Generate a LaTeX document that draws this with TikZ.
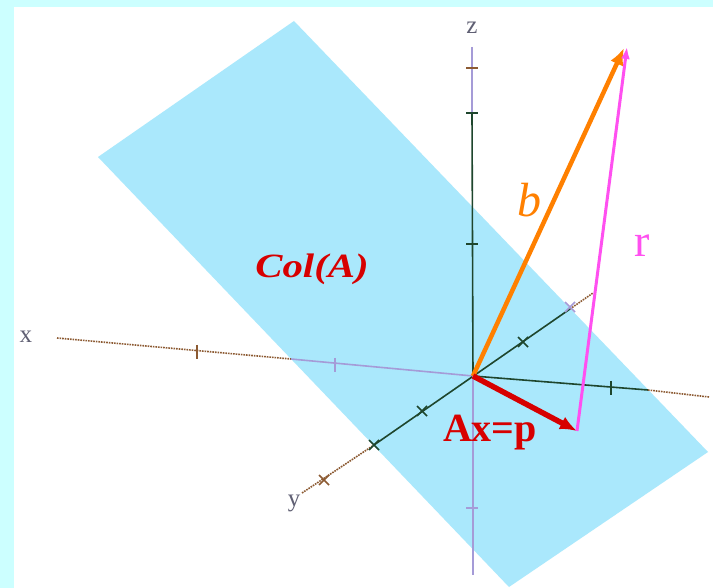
\documentclass[tikz,border=0pt]{standalone}
\usepackage{fontspec}
\setmainfont{Liberation Serif}
\usetikzlibrary{arrows.meta}

\definecolor{planecyan}{RGB}{170,232,252}
\definecolor{framecyan}{RGB}{204,255,255}
\definecolor{axisgreen}{RGB}{30,70,45}
\definecolor{axispurple}{RGB}{165,155,215}
\definecolor{axisbrown}{RGB}{140,90,50}
\definecolor{vecorange}{RGB}{255,128,0}
\definecolor{vecred}{RGB}{215,0,0}
\definecolor{vecpink}{RGB}{255,80,240}
\definecolor{labelgray}{RGB}{95,95,115}

\begin{document}
\begin{tikzpicture}
    [
        x=1pt, y=-1pt,
        front/.style={draw=axisgreen, line width=1.6pt},
        behind/.style={draw=axispurple, line width=1.6pt},
        outside/.style={draw=axisbrown, densely dotted, line width=1.6pt},
        axislabel/.style={text=labelgray, font=\fontsize{25}{25}\selectfont, inner sep=0pt},
        vector/.style={-{Latex[length=17pt, width=14pt]}, line width=4.5pt}
    ]
        % =========================================================================
        % FRAME
        % =========================================================================
        \fill [framecyan] (0,0) rectangle (713,588);
        \fill [white] (14,7) rectangle (713,588);
        \useasboundingbox (0,0) rectangle (713,588);

        % =========================================================================
        % PLANE
        % =========================================================================
        \coordinate (T) at (294,21);
        \coordinate (L) at (98,157);
        \coordinate (B) at (509,587);
        \coordinate (R) at (708,452);
        \fill [planecyan] (T) -- (R) -- (B) -- (L) -- cycle;

        % =========================================================================
        % AXES
        % =========================================================================
        \coordinate (O) at (473,376);
        % --- x ---
        \coordinate (xend) at (57,338);
        \coordinate (xin) at (291,359);
        \coordinate (xout) at (648,390);
        \coordinate (xstop) at (709,397);
        % --- y ---
        \coordinate (yend) at (302,493);
        \coordinate (yin) at (374,445);
        \coordinate (yout) at (570,309);
        \coordinate (ystop) at (593,293);
        % --- z ---
        \coordinate (ztop) at (472,47);
        \coordinate (zmid) at (472,113);
        \coordinate (zbot) at (473,575);

        \draw [outside] (xend) -- (xin);
        \draw [behind] (xin) -- (O);
        \draw [front] (O) -- (xout);
        \draw [outside] (xout) -- (xstop);
        \draw [outside] (yend) -- (yin);
        \draw [front] (yin) -- (yout);
        \draw [outside] (yout) -- (ystop);
        \draw [behind] (ztop) -- (zmid);
        \draw [front] (zmid) -- (O);
        \draw [behind] (O) -- (zbot);

        % --- ticks ---
        \foreach \x/\y/\c in {197/352/axisbrown, 335/365/axispurple, 611/388/axisgreen}
            \draw [\c, line width=1.6pt] (\x,\y-7) -- (\x,\y+7);
        \foreach \x/\y/\c in {422/411/axisgreen, 374/445/axisgreen, 324/480/axisbrown,
                              523/342/axisgreen, 570/307/axispurple}
            \draw [\c, line width=1.6pt] (\x-5,\y-5) -- (\x+5,\y+5) (\x-5,\y+5) -- (\x+5,\y-5);
        \foreach \y/\c in {68/axisbrown, 113/axisgreen, 244/axisgreen, 508/axispurple}
            \draw [\c, line width=1.6pt] (466,\y) -- (478,\y);

        % =========================================================================
        % VECTORS
        % =========================================================================
        \coordinate (btip) at (624,48);
        \coordinate (ptip) at (577,431);
        \coordinate (rtip) at (627,47);
        \draw [vector, vecorange] (O) -- (btip);
        \draw [vector, vecred, line width=5.5pt] (O) -- (ptip);
        \draw [vecpink, line width=3pt, -{Latex[length=12pt, width=9pt]}] (ptip) -- (rtip);

        % =========================================================================
        % LABELS
        % =========================================================================
        \node [axislabel] (xlabel) at (26,337) {x};
        \node [axislabel] (ylabel) at (294,503) {y};
        \node [axislabel] (zlabel) at (472,28) {z};
        \node [text=vecred, font=\fontsize{34}{34}\selectfont\bfseries\itshape,
               xscale=1.2, anchor=base] (colA) at (312,278) {Col(A)};
        \node [text=vecorange, font=\fontsize{48}{48}\selectfont\itshape, anchor=base] (blabel) at (529,217) {b};
        \node [text=vecpink, font=\fontsize{46}{46}\selectfont, anchor=base] (rlabel) at (642,257) {r};
        \node [text=vecred, font=\fontsize{40}{40}\selectfont\bfseries, anchor=base] (plabel) at (490,442) {Ax=p};
    \end{tikzpicture}
\end{document}
